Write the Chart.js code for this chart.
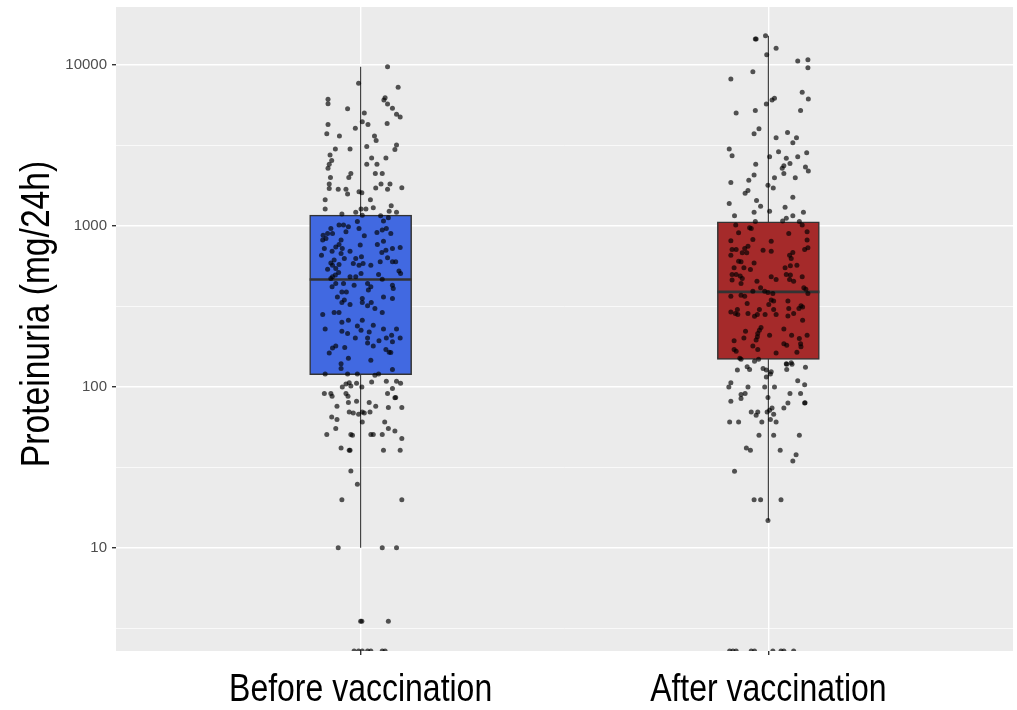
<!DOCTYPE html>
<html>
<head>
<meta charset="utf-8">
<title>Proteinuria before and after vaccination</title>
<script src="https://cdn.jsdelivr.net/npm/chart.js@4.4.1/dist/chart.umd.min.js"></script>
<style>
  html, body { margin: 0; padding: 0; background: #fff; }
  #wrap { width: 1017px; height: 710px; }
</style>
</head>
<body>
<div id="wrap"><canvas id="proteinChart" width="1017" height="710"></canvas></div>
<script>
const groups = ["Before vaccination", "After vaccination"];
const boxColors = ["#4169E1", "#A52A2A"];
const yTitle = "Proteinuria (mg/24h)";

// box statistics per group (mg/24h)
const q1 = [119, 148];
const medians = [463, 388];
const q3 = [1162, 1057];
const whiskerLow = [10, 14.8];
const whiskerHigh = [9690, 15100];

const yTicks = [10, 100, 1000, 10000];
const yMinorTicks = [3.162, 31.62, 316.2, 3162];
const Y_MIN = 2.29;
const Y_MAX = 22750;

// individual patients, before vaccination (0 = nothing measured)
const beforeValues = [
  9690, 7640, 7220, 6080, 5710, 6220, 6020, 5680, 5350, 5320,
  5000, 4910, 4720, 4410, 4250, 4310, 4250, 4015, 3720, 3600,
  3600, 3380, 3100, 3160, 2970, 2990, 2990, 2740, 2540, 2400,
  2270, 2630, 2630, 2400, 2400, 2110, 1990, 2110, 2110, 1990,
  1810, 1700, 1810, 1810, 1680, 1680, 1570, 1710, 1680, 1720,
  1620, 1600, 1450, 1450, 1270, 1270, 1270, 1290, 1330, 1230,
  1210, 1180, 1210, 1160, 1150, 1120, 1010, 1010, 983, 1060,
  961, 1070, 961, 894, 873, 813, 833, 894, 915, 864,
  908, 938, 961, 894, 813, 764, 738, 722, 672, 694,
  757, 764, 801, 694, 722, 656, 682, 704, 722, 732,
  611, 587, 568, 542, 574, 626, 626, 640, 582, 568,
  582, 596, 631, 596, 596, 537, 568, 512, 493, 470,
  481, 505, 481, 481, 498, 465, 522, 505, 417, 438,
  438, 427, 438, 417, 398, 427, 407, 388, 388, 361,
  345, 333, 324, 353, 333, 318, 333, 306, 361, 353,
  289, 289, 289, 281, 251, 259, 238, 259, 241, 228,
  221, 214, 224, 219, 228, 228, 201, 201, 187, 179,
  193, 201, 209, 190, 201, 179, 174, 162, 175, 170,
  164, 163, 150, 146, 139, 130, 128, 120, 120, 120,
  118, 120, 99.7, 104, 106, 101, 105, 99.7, 107, 108,
  97.5, 108, 105, 90.7, 90.7, 87.3, 90.7, 87.3, 90.7, 85.7,
  85.3, 75.7, 79.8, 81.3, 79.8, 75.7, 74.3, 74.3, 64.9, 62.6,
  69.8, 68.8, 67.5, 69.8, 68.8, 69.8, 60.4, 60.4, 55, 55,
  53.2, 50.5, 50.5, 50, 50.5, 50.5, 50.5, 47.7, 41.7, 40.3,
  40.3, 40.3, 40.3, 30, 24.8, 19.9, 19.9, 10, 10, 10,
  3.5, 3.5, 3.5, 0, 0, 0, 0, 0, 0, 0
];
// horizontal jitter of each point around its group centre
const beforeJitter = [
  0.066, -0.005, 0.092, -0.080, -0.080, 0.060, 0.057, 0.066, 0.078, -0.032,
  0.009, 0.088, 0.097, 0.004, 0.018, 0.065, -0.080, -0.013, -0.083, -0.052,
  0.034, 0.038, 0.015, 0.088, 0.084, -0.062, -0.026, -0.075, -0.071, -0.077,
  -0.080, 0.027, 0.062, 0.015, 0.040, -0.024, -0.029, 0.036, 0.053, -0.074,
  -0.077, -0.077, 0.050, 0.072, -0.055, -0.036, -0.032, 0.037, 0.066, 0.101,
  -0.004, 0.003, -0.087, 0.024, -0.087, 0.001, 0.013, 0.031, 0.075, 0.070,
  0.088, -0.046, -0.012, 0.004, 0.049, 0.068, -0.053, -0.042, -0.030, -0.008,
  -0.004, 0.056, -0.073, -0.081, -0.092, -0.093, -0.085, -0.069, -0.036, 0.009,
  0.040, 0.053, 0.063, 0.074, -0.048, -0.053, -0.061, -0.045, -0.048, -0.070,
  -0.001, 0.041, 0.056, -0.026, -0.089, -0.096, 0.052, 0.062, 0.078, 0.097,
  -0.065, -0.073, -0.069, -0.061, -0.053, -0.040, -0.012, 0.002, 0.006, -0.004,
  -0.018, 0.048, 0.066, 0.078, 0.086, -0.081, 0.025, -0.054, -0.062, -0.073,
  -0.069, 0.001, -0.012, -0.026, 0.044, 0.053, 0.094, 0.098, -0.070, -0.061,
  -0.042, -0.016, 0.017, 0.025, 0.019, 0.078, 0.080, -0.046, -0.035, -0.057,
  -0.040, -0.046, -0.026, 0.004, 0.004, 0.017, 0.026, 0.035, 0.056, 0.078,
  0.053, -0.065, -0.053, -0.093, -0.046, -0.030, -0.008, 0.004, 0.031, -0.087,
  -0.046, -0.032, 0.001, 0.021, 0.056, 0.088, -0.013, 0.017, 0.017, 0.031,
  0.045, 0.063, 0.076, 0.078, 0.097, -0.061, -0.069, -0.077, -0.039, 0.062,
  0.070, 0.074, -0.030, 0.025, -0.048, -0.048, 0.078, -0.087, -0.032, -0.008,
  0.035, 0.044, -0.045, -0.036, -0.028, -0.024, -0.010, 0.003, 0.027, 0.063,
  0.078, 0.088, 0.098, -0.089, -0.073, -0.070, -0.036, -0.031, 0.066, 0.086,
  0.084, -0.058, -0.030, -0.010, 0.021, 0.037, 0.068, 0.101, -0.071, -0.058,
  -0.028, -0.018, -0.005, 0.004, 0.009, 0.023, 0.004, 0.059, -0.061, 0.068,
  0.084, -0.083, -0.024, -0.020, 0.025, 0.031, 0.053, 0.101, -0.048, -0.026,
  -0.028, 0.056, 0.097, -0.024, -0.008, -0.046, 0.101, -0.055, 0.053, 0.088,
  0.000, 0.003, 0.068, -0.016, -0.005, 0.004, 0.017, 0.025, 0.053, 0.060
];

// individual patients, after vaccination
const afterValues = [
  15100, 14400, 14400, 12600, 11500, 10500, 10700, 9550, 9020, 8130,
  6720, 6110, 6170, 6020, 5680, 5000, 5190, 5190, 3990, 3720,
  3790, 3510, 3510, 3270, 2990, 2710, 2870, 2830, 2680, 2680,
  2620, 2430, 2400, 2350, 2270, 2110, 2310, 2180, 2060, 1910,
  1980, 1980, 1850, 1780, 1710, 1650, 1590, 1500, 1430, 1320,
  1370, 1300, 1150, 1210, 1230, 1210, 1110, 1070, 1150, 1060,
  1060, 1010, 902, 969, 961, 805, 821, 894, 915, 813,
  746, 722, 678, 712, 712, 656, 678, 704, 694, 801,
  682, 656, 626, 712, 728, 602, 596, 587, 547, 547,
  535, 547, 563, 568, 498, 498, 486, 470, 459, 438,
  498, 493, 463, 452, 481, 481, 463, 452, 411, 392,
  392, 385, 379, 411, 403, 379, 365, 370, 365, 345,
  340, 318, 313, 306, 329, 324, 340, 302, 291, 285,
  281, 302, 281, 274, 285, 281, 281, 302, 306, 275,
  285, 259, 233, 224, 214, 204, 221, 201, 209, 228,
  209, 209, 193, 195, 199, 185, 177, 179, 170, 185,
  181, 170, 166, 162, 164, 150, 148, 144, 148, 139,
  141, 133, 128, 127, 130, 127, 124, 120, 115, 138,
  138, 128, 132, 109, 103, 106, 99.7, 99.7, 99.7, 99.7,
  89.5, 90.7, 84.5, 85.7, 90.7, 90.7, 81.3, 79.3, 73.8, 79.3,
  79.6, 73.8, 71.5, 69.8, 67.5, 69.8, 69.8, 66.5, 62.6, 60.4,
  60.4, 60.4, 60.4, 50, 50, 50, 41.7, 40.3, 40.3, 37.9,
  34.6, 29.9, 19.9, 19.9, 19.9, 14.8, 0, 0, 0, 0,
  0, 0, 0, 0, 0, 1010
];
const afterJitter = [
  -0.007, -0.032, -0.030, 0.019, -0.004, 0.072, 0.097, 0.097, -0.038, -0.092,
  0.083, 0.098, 0.015, 0.009, -0.005, -0.079, -0.032, 0.079, -0.023, -0.035,
  0.047, 0.019, 0.069, 0.060, -0.096, -0.089, 0.025, 0.094, 0.003, 0.072,
  0.044, 0.053, -0.031, 0.038, 0.034, 0.038, 0.091, 0.098, -0.035, -0.048,
  0.015, 0.066, -0.092, -0.001, 0.012, -0.050, -0.057, 0.060, -0.029, -0.019,
  -0.096, 0.041, -0.083, -0.035, 0.003, 0.086, 0.044, 0.035, 0.060, -0.032,
  0.076, -0.080, -0.073, -0.046, -0.042, -0.092, -0.038, 0.050, 0.095, 0.095,
  -0.050, -0.058, -0.053, -0.089, -0.079, -0.092, -0.064, -0.013, 0.007, 0.007,
  0.060, 0.052, 0.056, 0.089, 0.097, -0.073, -0.067, -0.035, -0.084, -0.060,
  -0.044, 0.041, 0.054, 0.070, -0.089, -0.079, -0.069, -0.064, -0.089, -0.067,
  0.044, 0.054, 0.052, 0.062, 0.083, 0.007, 0.019, -0.028, -0.019, -0.009,
  -0.038, -0.001, 0.011, 0.087, 0.092, 0.097, -0.092, -0.067, -0.058, 0.007,
  0.048, 0.080, 0.084, 0.075, -0.052, 0.001, 0.013, -0.076, -0.092, -0.081,
  -0.075, -0.022, -0.027, -0.034, -0.050, -0.008, 0.019, 0.013, 0.050, 0.048,
  0.062, 0.084, -0.018, -0.022, -0.026, -0.027, -0.056, -0.060, 0.003, 0.038,
  0.057, 0.095, -0.084, -0.030, 0.076, 0.079, 0.080, -0.038, -0.026, 0.038,
  0.045, -0.084, -0.079, 0.019, 0.070, -0.070, -0.067, -0.034, -0.024, 0.044,
  0.056, -0.052, -0.046, -0.076, -0.013, -0.005, 0.007, 0.005, -0.005, 0.045,
  0.058, 0.045, 0.091, 0.072, 0.089, -0.092, -0.097, -0.050, -0.009, 0.015,
  -0.067, -0.057, -0.067, -0.001, 0.053, 0.079, -0.092, 0.048, 0.038, 0.089,
  0.090, 0.009, 0.003, -0.003, 0.013, -0.042, -0.026, -0.030, 0.005, 0.019,
  -0.095, -0.073, -0.016, -0.023, 0.013, 0.076, -0.054, -0.044, 0.029, 0.068,
  0.060, -0.083, -0.035, -0.019, 0.031, -0.001, -0.095, -0.087, -0.079, -0.042,
  -0.034, 0.011, 0.031, 0.038, 0.062, 0.083
];

const LABEL_FONT = "'Liberation Sans', Arial, sans-serif";
const TICK_FONT = "'Liberation Sans', Arial, sans-serif";

// zero readings sit on the bottom edge of the panel
function toPoints(values, jitter, centre) {
    return values.map((v, i) => ({ x: centre + jitter[i], y: v === 0 ? Y_MIN : v }));
}

function segment(x1, y1, x2, y2, width, order) {
    return {
        type: 'line',
        data: [{ x: x1, y: y1 }, { x: x2, y: y2 }],
        borderColor: '#333333',
        borderWidth: width,
        pointRadius: 0,
        fill: false,
        order: order
    };
}

// grey panel behind the grid, ggplot style
const panelBackground = {
    id: 'panelBackground',
    beforeDraw(chart) {
        const { ctx, chartArea } = chart;
        ctx.save();
        ctx.fillStyle = '#EBEBEB';
        ctx.fillRect(chartArea.left, chartArea.top, chartArea.right - chartArea.left, chartArea.bottom - chartArea.top);
        ctx.restore();
    }
};

// big condensed axis texts: group names under the panel and the y title
const condensedLabels = {
    id: 'condensedLabels',
    afterDraw(chart) {
        const { ctx, chartArea, scales } = chart;
        ctx.save();
        ctx.fillStyle = '#000000';
        ctx.textAlign = 'center';
        ctx.textBaseline = 'alphabetic';

        ctx.font = '39px ' + LABEL_FONT;
        groups.forEach((name, i) => {
            ctx.save();
            ctx.translate(scales.x.getPixelForValue(i + 1), chartArea.bottom + 50);
            ctx.scale(0.82, 1);
            ctx.fillText(name, 0, 0);
            ctx.restore();
        });

        ctx.font = '40px ' + LABEL_FONT;
        ctx.translate(49, (chartArea.top + chartArea.bottom) / 2 - 15);
        ctx.rotate(-Math.PI / 2);
        ctx.scale(0.84, 1);
        ctx.fillText(yTitle, 0, 0);
        ctx.restore();
    }
};

const halfBox = 0.125;
const datasets = [];

[beforeValues, afterValues].forEach((values, g) => {
    const jitter = g === 0 ? beforeJitter : afterJitter;
    datasets.push({
        type: 'scatter',
        data: toPoints(values, jitter, g + 1),
        backgroundColor: 'rgba(0,0,0,0.66)',
        borderWidth: 0,
        pointRadius: 2.5,
        clip: 0,
        order: 0
    });
    datasets.push(segment(g + 1 - halfBox, medians[g], g + 1 + halfBox, medians[g], 2.6, 1));
    datasets.push(segment(g + 1, whiskerLow[g], g + 1, whiskerHigh[g], 1.1, 3));
});

datasets.push({
    type: 'bar',
    data: groups.map((name, i) => ({ x: i + 1, y: [q1[i], q3[i]] })),
    backgroundColor: boxColors,
    borderColor: '#333333',
    borderWidth: 1.5,
    borderSkipped: false,
    barThickness: 102,
    order: 2
});

const allYTicks = yTicks.concat(yMinorTicks).sort((a, b) => a - b);

function noPadding(scale) {
    scale.paddingTop = 0;
    scale.paddingBottom = 0;
    scale.paddingLeft = 0;
    scale.paddingRight = 0;
}

new Chart(document.getElementById('proteinChart'), {
    type: 'scatter',
    data: { datasets: datasets },
    options: {
        responsive: false,
        animation: false,
        events: [],
        layout: { padding: { top: 7, right: 1, left: 0, bottom: 0 } },
        plugins: {
            legend: { display: false },
            tooltip: { enabled: false }
        },
        scales: {
            x: {
                type: 'linear',
                min: 0.4,
                max: 2.6,
                offset: false,
                afterBuildTicks: scale => { scale.ticks = [{ value: 1 }, { value: 2 }]; },
                afterFit: scale => { scale.height = 59; noPadding(scale); },
                border: { display: false },
                grid: { color: '#FFFFFF', lineWidth: 1.4, tickColor: '#333333', tickLength: 4, offset: false },
                ticks: { display: false }
            },
            y: {
                type: 'logarithmic',
                min: Y_MIN,
                max: Y_MAX,
                beginAtZero: false,
                afterBuildTicks: scale => { scale.ticks = allYTicks.map(v => ({ value: v })); },
                afterFit: scale => { scale.width = 116; noPadding(scale); },
                border: { display: false },
                grid: {
                    color: '#FFFFFF',
                    lineWidth: ctx => yTicks.includes(ctx.tick.value) ? 1.4 : 0.7,
                    tickColor: ctx => yTicks.includes(ctx.tick.value) ? '#333333' : 'rgba(0,0,0,0)',
                    tickLength: 4
                },
                ticks: {
                    callback: value => yTicks.includes(value) ? String(value) : '',
                    color: '#4D4D4D',
                    font: { family: TICK_FONT, size: 15 },
                    padding: 5,
                    autoSkip: false
                }
            }
        }
    },
    plugins: [panelBackground, condensedLabels]
});
</script>
</body>
</html>
